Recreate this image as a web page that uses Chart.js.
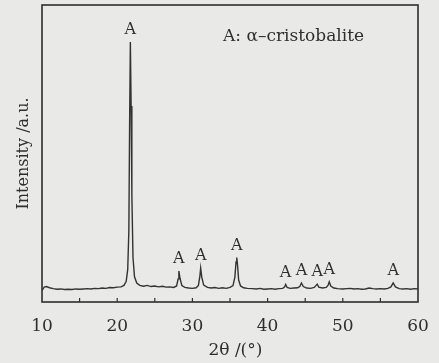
<!DOCTYPE html>
<html lang="en">
<head>
  <meta charset="UTF-8" />
  <title>XRD pattern</title>
  <script src="https://cdn.jsdelivr.net/npm/chart.js"></script>
  <style>
    body {
      margin: 0;
      background-color: #e9e9e7;
    }
    canvas {
      display: block;
    }
  </style>
</head>
<body>

  <canvas id="xrdChart" width="439" height="363"></canvas>

  <script>
    // diffraction pattern (2θ in degrees, intensity in a.u.)
    const twoTheta = [
      10.0, 10.3, 10.6, 11.0, 11.5, 12.0, 12.5, 13.0, 13.5, 14.0, 14.5, 15.0, 15.5, 16.0, 16.5,
      17.0, 17.5, 18.0, 18.5, 19.0, 19.5, 20.0, 20.5, 20.9, 21.2, 21.4, 21.55, 21.65, 21.75,
      21.85, 21.95, 22.1, 22.3, 22.6, 23.0, 23.5, 24.0, 24.5, 25.0, 25.5, 26.0, 26.5, 27.0,
      27.5, 27.9, 28.1, 28.2, 28.35, 28.6, 29.0, 29.5, 30.0, 30.5, 30.8, 31.0, 31.1, 31.25,
      31.5, 32.0, 32.5, 33.0, 33.5, 34.0, 34.5, 35.0, 35.4, 35.65, 35.8, 35.9, 36.0, 36.15,
      36.4, 36.8, 37.3, 38.0, 38.5, 39.0, 39.5, 40.0, 40.5, 41.0, 41.5, 42.0, 42.25, 42.4,
      42.6, 43.0, 43.5, 44.0, 44.3, 44.5, 44.75, 45.2, 45.7, 46.2, 46.45, 46.6, 46.8, 47.3,
      47.8, 48.05, 48.2, 48.4, 48.8, 49.3, 50.0, 50.5, 51.0, 51.5, 52.0, 52.5, 53.0, 53.5,
      54.0, 54.5, 55.0, 55.5, 56.0, 56.4, 56.7, 57.0, 57.5, 58.0, 58.5, 59.0, 59.5, 60.0
    ];
    const intensity = [
      3.9, 5.0, 5.2, 4.8, 4.5, 4.3, 4.4, 4.2, 4.3, 4.2, 4.4, 4.3, 4.4, 4.5, 4.4,
      4.6, 4.5, 4.7, 4.6, 4.9, 4.8, 5.0, 5.1, 5.6, 7.0, 11.0, 24.0, 60.0, 87.5,
      66.0, 36.0, 15.0, 8.5, 6.4, 5.6, 5.3, 5.6, 5.2, 5.4, 5.1, 5.3, 5.0, 5.1,
      4.9, 5.4, 7.8, 10.4, 8.0, 5.5, 4.9, 4.7, 4.6, 4.8, 5.6, 8.8, 11.4, 8.3,
      5.7, 4.9, 4.7, 4.9, 4.6, 4.8, 4.6, 4.9, 5.5, 8.4, 13.5, 15.0, 12.5, 7.4,
      5.4, 4.8, 4.6, 4.5, 4.4, 4.6, 4.3, 4.4, 4.5, 4.3, 4.5, 4.6, 5.0, 5.9,
      4.9, 4.6, 4.7, 4.8, 5.3, 6.4, 5.2, 4.7, 4.6, 4.9, 5.6, 6.0, 5.0, 4.7,
      4.9, 5.7, 6.8, 5.4, 4.7, 4.5, 4.4, 4.5, 4.6, 4.4, 4.5, 4.3, 4.4, 4.7,
      4.5, 4.4, 4.5, 4.4, 4.6, 5.1, 6.4, 5.1, 4.5, 4.4, 4.5, 4.3, 4.5, 4.4
    ];

    // peaks marked "A" (α-cristobalite)
    const peakTheta = [21.75, 28.2, 31.1, 35.9, 42.4, 44.5, 46.6, 48.2, 56.7];
    const peakIntensity = [87.5, 10.4, 11.4, 15.0, 5.9, 6.4, 6.0, 6.8, 6.4];
    const peakLabel = 'A';

    const xTicks = [10, 20, 30, 40, 50, 60];

    const ink = '#2e2e2e';
    const serif = "'DejaVu Serif', 'Liberation Serif', serif";

    const points = twoTheta.map((t, i) => ({ x: t, y: intensity[i] }));

    // frame, inward ticks, peak letters and the legend note
    const decorations = {
      id: 'decorations',
      afterDraw(chart) {
        const c = chart.ctx;
        const area = chart.chartArea;
        const xs = chart.scales.x;
        const ys = chart.scales.y;
        c.save();
        c.strokeStyle = ink;
        c.lineWidth = 1.6;
        c.strokeRect(area.left, area.top, area.right - area.left, area.bottom - area.top);

        c.lineWidth = 1.2;
        xs.ticks.forEach(t => {
          if (t.value <= xs.min || t.value >= xs.max) return;
          const px = xs.getPixelForValue(t.value);
          c.beginPath();
          c.moveTo(px, area.bottom);
          c.lineTo(px, area.bottom - 4);
          c.stroke();
        });

        c.fillStyle = ink;
        c.font = '16px ' + serif;
        c.textAlign = 'center';
        c.textBaseline = 'bottom';
        peakTheta.forEach((t, i) => {
          c.fillText(peakLabel, xs.getPixelForValue(t), ys.getPixelForValue(peakIntensity[i]) - 4);
        });

        c.font = '17px ' + serif;
        c.textAlign = 'left';
        c.textBaseline = 'middle';
        c.fillText('A: α–cristobalite', area.left + 181, area.top + 32);
        c.restore();
      }
    };

    new Chart(document.getElementById('xrdChart'), {
      type: 'line',
      data: {
        datasets: [{
          data: points,
          borderColor: '#333',
          borderWidth: 1.4,
          pointRadius: 0,
          tension: 0,
          fill: false
        }]
      },
      options: {
        responsive: false,
        animation: false,
        layout: { padding: { top: 5, right: 21, left: 0, bottom: 0 } },
        plugins: {
          legend: { display: false },
          tooltip: { enabled: false }
        },
        scales: {
          x: {
            type: 'linear',
            min: 10,
            max: 60,
            afterFit(scale) {
              scale.height = 61;
              scale.paddingLeft = 0;
              scale.paddingRight = 0;
            },
            grid: { drawOnChartArea: false, drawTicks: false },
            border: { display: false },
            ticks: {
              stepSize: 5,
              padding: 14,
              color: ink,
              font: { family: serif, size: 17 },
              maxRotation: 0,
              callback: v => (xTicks.includes(v) ? v : '')
            },
            title: {
              display: true,
              text: '\u00a0\u00a02θ /(°)',
              color: ink,
              font: { family: serif, size: 17 },
              padding: { top: 0, bottom: 2 }
            }
          },
          y: {
            min: 0,
            max: 100,
            afterFit(scale) { scale.width = 42; },
            grid: { drawOnChartArea: false, drawTicks: false },
            border: { display: false },
            ticks: { display: false },
            title: {
              display: true,
              text: 'Intensity /a.u.',
              color: ink,
              font: { family: serif, size: 16 },
              padding: { top: 14, bottom: 0 }
            }
          }
        }
      },
      plugins: [decorations]
    });
  </script>

</body>
</html>
